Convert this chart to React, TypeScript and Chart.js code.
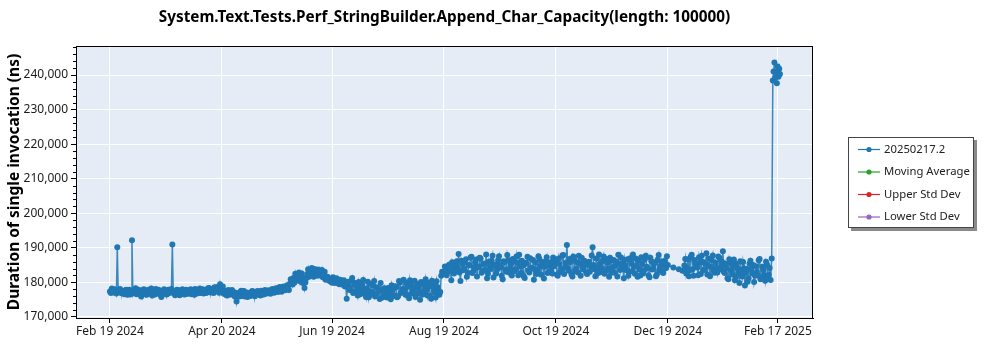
import React, { useEffect, useRef } from "react";
import { Chart, registerables } from "chart.js";

Chart.register(...registerables);

const chartTitle = "System.Text.Tests.Perf_StringBuilder.Append_Char_Capacity(length: 100000)";
const yAxisTitle = "Duration of single invocation (ns)";
const seriesNames = ["20250217.2", "Moving Average", "Upper Std Dev", "Lower Std Dev"];
const seriesColors = ["#1f77b4", "#2ca02c", "#d62728", "#9467bd"];

// x axis: days since Feb 19 2024
const xTickDays = [0, 61, 121, 182, 243, 304, 364];
const xTickLabels = ["Feb 19 2024", "Apr 20 2024", "Jun 19 2024", "Aug 19 2024", "Oct 19 2024", "Dec 19 2024", "Feb 17 2025"];
const yTickValues = [170000, 180000, 190000, 200000, 210000, 220000, 230000, 240000];

// first run of each day, starting Feb 19 2024 (null = no run)
const firstRunDurations = [
  177400, 178200, 177100, 177800, 190200, 177600, 176900, 177500, 176600, 177900,
  177200, 176500, 192200, 177800, 178300, 176900, 177400, 175900, 176700, 177600,
  176400, 177900, 177100, 176200, 177500, 178100, 176800, 177300, 175800, 177000,
  177600, 176500, 177900, 177200, 191000, 177400, 176700, 177800, 176300, 177100,
  177700, 176600, 177300, 176900, 178000, 177200, 176400, 177600, 177000, 178200,
  177300, 176800, 177900, 177500, 178400, 177100, 177800, 178600, 177600, 178300,
  179500, 177900, 176700, 177400, 176200, 177100, 176500, 177300, 175900, 174500,
  176800, 177200, 176100, 177500, 176400, 175800, 177000, 176300, 177400, 176000,
  176700, 177300, 176200, 177100, 176600, 177400, 176900, 177600, 177200, 177800,
  177400, 178200, 177600, 178400, 177900, 178600, 178100, 178900, 179600, 180700,
  181300, 182500, 180600, 182900, 181700, 179800, 178400, 181200, 183800, 182000,
  184200, 181600, 183500, 181900, 183300, 182300, 181500, 183100, 180900, 181300,
  180400, 179900, 181100, 180300, 180700, 179500, 180200, 179400, 178800, 175300,
  180200, 178600, 181300, 177400, 179100, 176200, 178900, 177500, 180700, 176800,
  178300, 175700, 179600, 177200, 180400, 176500, 178100, 175200, 177700, 176100,
  177000, 175600, 176800, 175100, 177900, 176300, 178600, 176000, 179900, 177200,
  180800, 176400, 178700, 175400, 179300, 177800, 180500, 176600, 178400, 175000,
  179700, 177500, 180900, 176200, 178800, 175300, 179400, 177100, 180300, 177800,
  177200, 183100, 182400, 184300, 183000, 185200, 180600, 184700, 183600, 186100,
  188200, 180400, 185300, 183900, 186700, 182800, 184900, 187400, 183300, 185800,
  181700, 184600, 186900, 183200, 185500, 188100, 182500, 184800, 186300, 181400,
  185100, 183700, 187600, 184400, 180900, 185900, 183100, 186500, 184200, 182000,
  186200, 183800, 185600, 188000, 182700, 184900, 181300, 185400, 183500, 187000,
  184100, 180800, 185700, 183300, 186800, 182200, 185000, 184500, 187300, 183000,
  185800, 182600, 184700, 186400, 181900, 185300, 183900, 187900, 184300, 190800,
  183400, 185900, 181700, 186600, 184000, 182900, 185500, 187100, 183700, 185000,
  182400, 186000, 184600, 190200, 183800, 186900, 182700, 185400, 184100, 187500,
  183200, 185700, 181600, 186300, 184400, 182800, 185900, 188000, 183600, 185200,
  181200, 184800, 186700, 183100, 185600, 188100, 182500, 184900, 186400, 182000,
  185300, 183400, 187700, 184200, 181500, 186100, 183900, 185800, 182300, 187900,
  184700, 183000, 186200, 184100, 185000, null, null, 184300, null, null,
  183800, null, 183400, 184900, 182600, 186700, 183500, 188000, 181900, 185600,
  184300, 187300, 182400, 186000, 183700, 188400, 184800, 181800, 186400, 183300,
  185700, 182900, 187100, 184600, 189000, 182700, 184100, 180900, 185600, 182300,
  186600, 181500, 184000, 179800, 183400, 185900, 179100, 183900, 181200, 186300,
  182600, 180100, 184700, 182000, 186800, 181300, 183600, 180500, 185100, 182200,
  180700,
];

// second run of each day (half a day later), null = no run
const secondRunDurations = [
  176900, 177600, 178000, 176800, 177300, 178100, 177000, 176700, 177800, 176400,
  177900, 177300, 176800, 177500, 176600, 177900, 176800, 177700, 178000, 176500,
  177600, 176700, 178200, 177400, 176500, 177000, 177900, 176400, 177500, 178000,
  176600, 177800, 176900, 178100, 177000, 176300, 177900, 176800, 177600, 178000,
  176500, 177900, 176700, 177700, 176600, 177900, 178100, 176800, 177900, 176900,
  178000, 177600, 176900, 178300, 177200, 178100, 176900, 177500, 178700, 177000,
  178100, 178800, 177500, 176300, 177800, 176600, 177800, 176400, 177000, 176600,
  175900, 177600, 176800, 175900, 177100, 176900, 176100, 177500, 176200, 177300,
  177500, 176400, 177600, 176500, 177800, 176800, 177700, 176700, 178100, 177000,
  178300, 177200, 178700, 177300, 178800, 177700, 179200, 177800, 180900, 179400,
  179900, 181100, 182200, 180300, 182600, 181300, 180000, 182400, 181600, 183500,
  182300, 183900, 182100, 183700, 182000, 183600, 182500, 180800, 181600, 180500,
  180200, 181500, 179800, 181200, 179700, 180800, 179400, 180600, 178900, 179800,
  177800, 180500, 176900, 179800, 177600, 180100, 176600, 179400, 178100, 175800,
  180200, 177300, 176400, 179000, 175900, 178600, 177400, 179800, 175600, 178300,
  175900, 178400, 177200, 179200, 176100, 178900, 175700, 180400, 176900, 178100,
  177500, 179900, 176300, 180600, 176800, 178400, 175800, 179500, 177000, 180100,
  176500, 179200, 177700, 179800, 176100, 180500, 177900, 175600, 178700, 176400,
  181900, 182700, 184600, 182100, 184900, 183300, 185800, 182600, 185100, 184200,
  182900, 186300, 183500, 185900, 181600, 185000, 187200, 182700, 184400, 186600,
  184300, 187100, 182800, 185300, 183600, 181200, 186000, 183900, 187700, 185100,
  182600, 186400, 184900, 181900, 186100, 183600, 187900, 182900, 185400, 186800,
  183300, 187500, 182100, 184600, 186300, 181800, 185700, 187400, 182900, 184200,
  186500, 183800, 182400, 187600, 184700, 185900, 181100, 186200, 182700, 184900,
  183500, 187200, 185600, 182300, 186900, 183000, 187800, 182400, 185700, 184100,
  186800, 182300, 187500, 183200, 185800, 187700, 181900, 184400, 186300, 182800,
  185600, 183100, 187800, 185000, 181800, 184300, 188100, 183000, 186200, 182500,
  186800, 184000, 187100, 182900, 186500, 184900, 181700, 185300, 187200, 183900,
  186500, 183500, 181900, 187000, 183200, 184700, 186900, 181600, 183800, 187300,
  182600, 186700, 184500, 182000, 187100, 183700, 185400, 181800, 186600, 183600,
  186000, 182700, 185400, 187600, null, null, null, null, null, null,
  null, null, null, 186800, 184200, 181800, 187400, 183800, 186500, 184700,
  182100, 185800, 187700, 183600, 185500, 182300, 186900, 184500, 187800, 182800,
  184200, 187500, 183800, 186000, 183100, 185400, 181200, 186700, 183500, 184900,
  180600, 185300, 182700, 186100, 181700, 184100, 182900, 180200, 185400, 183700,
  185000, 181900, 183000, 186400, 180900, 184500, 182100, 186000, 181700, 184200,
];

// final runs (several per day)
const finalRunDays = [360.6, 361.2, 361.6, 362.1, 362.5, 363.0, 363.4, 363.8, 364.3, 364.7, 365.1];
const finalRunDurations = [186900, 238400, 241000, 243600, 239200, 240800, 237600, 242500, 239500, 241800, 240300];

const FONT = "'Noto Sans', 'Open Sans', sans-serif";

export default function App() {
  const canvasRef = useRef<HTMLCanvasElement | null>(null);

  useEffect(() => {
    const canvas = canvasRef.current;
    if (!canvas) return;

    const points: { x: number; y: number }[] = [];
    firstRunDurations.forEach((v, i) => {
      if (v !== null) points.push({ x: i, y: v });
      const s = secondRunDurations[i];
      if (s !== undefined && s !== null) points.push({ x: i + 0.5, y: s });
    });
    finalRunDays.forEach((d, i) => points.push({ x: d, y: finalRunDurations[i] }));

    const decor = {
      id: "decor",
      beforeDraw(chart: any) {
        const { ctx, chartArea: a } = chart;
        ctx.save();
        ctx.fillStyle = "#E5ECF6";
        ctx.fillRect(a.left, a.top, a.right - a.left, a.bottom - a.top);
        ctx.restore();
      },
      afterDraw(chart: any) {
        const { ctx, chartArea: a } = chart;
        const ys = chart.scales.y;
        ctx.save();
        ctx.strokeStyle = "#000";
        ctx.lineWidth = 1;
        ctx.strokeRect(a.left + 0.5, a.top + 0.5, a.right - a.left - 1, a.bottom - a.top);
        ctx.beginPath();
        for (let v = 172000; v < ys.max; v += 2000) {
          if (v % 10000 === 0) continue;
          const y = Math.round(ys.getPixelForValue(v)) + 0.5;
          ctx.moveTo(a.left - 3, y);
          ctx.lineTo(a.left, y);
        }
        ctx.stroke();
        ctx.fillStyle = "#000";
        ctx.font = `bold 15.3px ${FONT}`;
        ctx.textAlign = "center";
        ctx.textBaseline = "middle";
        ctx.fillText(chartTitle, (a.left + a.right) / 2, 18);
        ctx.save();
        ctx.translate(15, (a.top + a.bottom) / 2);
        ctx.rotate(-Math.PI / 2);
        ctx.font = `bold 15.5px ${FONT}`;
        ctx.fillText(yAxisTitle, 0, 0);
        ctx.restore();
        const lx = 848, ly = 137, lw = 126, lh = 91;
        ctx.fillStyle = "#8a8a8a";
        ctx.fillRect(lx + 3, ly + 3, lw, lh);
        ctx.fillStyle = "#fff";
        ctx.fillRect(lx, ly, lw, lh);
        ctx.strokeStyle = "#444";
        ctx.strokeRect(lx + 0.5, ly + 0.5, lw - 1, lh - 1);
        ctx.font = `11.3px ${FONT}`;
        ctx.textAlign = "left";
        seriesNames.forEach((name, i) => {
          const y = ly + 12.5 + i * 22.5;
          ctx.strokeStyle = seriesColors[i];
          ctx.lineWidth = 1.2;
          ctx.beginPath();
          ctx.moveTo(lx + 10, y);
          ctx.lineTo(lx + 32, y);
          ctx.stroke();
          ctx.fillStyle = seriesColors[i];
          ctx.beginPath();
          ctx.arc(lx + 21, y, 2.6, 0, Math.PI * 2);
          ctx.fill();
          ctx.fillStyle = "#222";
          ctx.fillText(name, lx + 36, y);
        });
        ctx.restore();
      },
    };

    const chart = new Chart(canvas, {
      type: "line",
      data: {
        datasets: [
          {
            label: seriesNames[0],
            data: points as any,
            borderColor: "rgba(31,119,180,0.85)",
            backgroundColor: seriesColors[0],
            pointBackgroundColor: seriesColors[0],
            pointBorderWidth: 0,
            pointRadius: 3,
            borderWidth: 1.5,
            spanGaps: true,
          },
          { label: seriesNames[1], data: [], borderColor: seriesColors[1], backgroundColor: seriesColors[1] },
          { label: seriesNames[2], data: [], borderColor: seriesColors[2], backgroundColor: seriesColors[2] },
          { label: seriesNames[3], data: [], borderColor: seriesColors[3], backgroundColor: seriesColors[3] },
        ],
      },
      options: {
        animation: false,
        responsive: false,
        layout: { padding: { left: 0, top: 46, right: 187, bottom: 0 } },
        plugins: { legend: { display: false }, tooltip: { enabled: false }, title: { display: false } },
        scales: {
          x: {
            type: "linear",
            min: -18.5,
            max: 383.1,
            afterBuildTicks: (s: any) => {
              s.ticks = xTickDays.map((d) => ({ value: d }));
            },
            afterFit: (s: any) => {
              s.height = 32;
            },
            ticks: {
              autoSkip: false,
              maxRotation: 0,
              padding: 1,
              color: "#1a1a1a",
              font: { family: FONT, size: 12 },
              callback: (v: any) => {
                const i = xTickDays.indexOf(Number(v));
                return i >= 0 ? xTickLabels[i] : "";
              },
            },
            grid: { color: "#ffffff", lineWidth: 1, tickColor: "#000", tickLength: 5 },
            border: { display: true, color: "#000" },
          },
          y: {
            type: "linear",
            min: 169700,
            max: 248400,
            afterBuildTicks: (s: any) => {
              s.ticks = yTickValues.map((v) => ({ value: v }));
            },
            afterFit: (s: any) => {
              s.width = 76;
            },
            ticks: {
              padding: 3,
              color: "#1a1a1a",
              font: { family: FONT, size: 12 },
              callback: (v: any) => Number(v).toLocaleString("en-US"),
            },
            grid: { color: "#ffffff", lineWidth: 1, tickColor: "#000", tickLength: 5 },
            border: { display: true, color: "#000" },
          },
        },
      },
      plugins: [decor],
    });

    return () => chart.destroy();
  }, []);

  return (
    <div style={{ position: "fixed", left: 0, top: 0, width: 1000, height: 350, background: "#fff" }}>
      <canvas ref={canvasRef} width={1000} height={350} style={{ display: "block" }} />
    </div>
  );
}
